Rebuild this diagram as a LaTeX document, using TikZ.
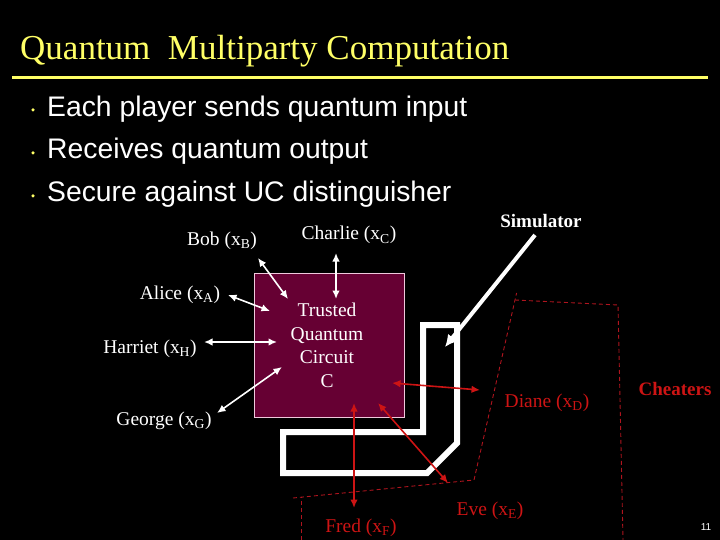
\documentclass[tikz,border=0pt]{standalone}
\usepackage{fontspec}
\setmainfont{Liberation Serif}
\newfontfamily\bulletfont{Liberation Sans}
\usetikzlibrary{arrows.meta}
\definecolor{ttl}{RGB}{255,255,102}
\definecolor{cred}{RGB}{205,20,20}
\definecolor{dred}{RGB}{175,20,30}
\definecolor{boxfill}{RGB}{102,0,51}
\definecolor{boxline}{RGB}{240,200,220}
\begin{document}
\begin{tikzpicture}[x=1pt,y=-1pt,
  lbl/.style={font=\fontsize{19.5}{23}\selectfont, text=white, inner sep=0pt, anchor=base},
  rlbl/.style={lbl, text=cred},
  blt/.style={font=\bulletfont\fontsize{28.3}{32}\selectfont, text=white, inner sep=0pt, anchor=base west},
  dot/.style={circle, fill=ttl, inner sep=0pt, minimum size=3.5pt},
  warrow/.style={white, line width=1.6pt, {Latex[length=8.5pt,width=7.5pt]}-{Latex[length=8.5pt,width=7.5pt]}},
  rarrow/.style={cred, line width=1.6pt, {Latex[length=8.5pt,width=7.5pt]}-{Latex[length=8.5pt,width=7.5pt]}},
  simarrow/.style={white, line width=4pt, -{Latex[length=12pt,width=12pt]}},
  simwall/.style={white, line width=6pt, line join=miter},
  cheat/.style={dred, dashed, dash pattern=on 4pt off 3pt, line width=0.9pt}
]
\fill[black] (0,0) rectangle (720,540);
\useasboundingbox (0,0) rectangle (720,540);

% title
\node[anchor=base west, text=ttl, font=\fontsize{35}{40}\selectfont, inner sep=0pt] (title) at (20,60) {Quantum\enspace Multiparty Computation};
\draw[ttl, line width=3pt] (12,78) -- (708,78);

% bullets
\node[dot] (d1) at (33,110) {};
\node[dot] (d2) at (33,153) {};
\node[dot] (d3) at (33,196) {};
\node[blt] (b1) at (47,117) {Each player sends quantum input};
\node[blt] (b2) at (47,159) {Receives quantum output};
\node[blt] (b3) at (47,202) {Secure against UC distinguisher};

% trusted circuit
\node[draw=boxline, line width=0.8pt, fill=boxfill, minimum width=150pt, minimum height=144pt, inner sep=0pt] (box) at (329,345) {};
\node[lbl] (t1) at (327,316) {Trusted};
\node[lbl] (t2) at (327,340) {Quantum};
\node[lbl] (t3) at (327,363) {Circuit};
\node[lbl] (t4) at (327,387) {C};

% simulator wall
\draw[simwall] (423,325) -- (457,325) -- (457,443) -- (427,473) -- (283,473) -- (283,432) -- (423,432) -- cycle;

% players
\node[lbl] (bob) at (222,245) {Bob (x\textsubscript{B})};
\node[lbl] (alice) at (180,299) {Alice (x\textsubscript{A})};
\node[lbl] (harriet) at (150,353) {Harriet (x\textsubscript{H})};
\node[lbl] (george) at (164,425) {George (x\textsubscript{G})};
\node[lbl] (charlie) at (349,240) {Charlie (x\textsubscript{C})};
\node[lbl, font=\bfseries\fontsize{19}{23}\selectfont] (sim) at (541,227) {Simulator};
\node[rlbl] (diane) at (547,407) {Diane (x\textsubscript{D})};
\node[rlbl, font=\bfseries\fontsize{19}{23}\selectfont] (cheaters) at (675,395) {Cheaters};
\node[rlbl] (eve) at (490,515) {Eve (x\textsubscript{E})};
\node[rlbl] (fred) at (361,532) {Fred (x\textsubscript{F})};
\node[anchor=base, text=white, font=\bulletfont\fontsize{10}{12}\selectfont, inner sep=0pt] (pg) at (706,530) {11};

% arrow ends
\coordinate (bobE) at (258,258);  \coordinate (bobB) at (288,299);
\coordinate (aliceE) at (228,295); \coordinate (aliceB) at (270,311);
\coordinate (harE) at (204,342);  \coordinate (harB) at (277,342);
\coordinate (geoE) at (217,413);  \coordinate (geoB) at (282,367);
\coordinate (chaE) at (336,253);  \coordinate (chaB) at (336,299);
\coordinate (dianeE) at (480,390); \coordinate (dianeB) at (392,383);
\coordinate (fredE) at (354,508); \coordinate (fredB) at (354,403);
\coordinate (eveE) at (448,483);  \coordinate (eveB) at (378,403);
\coordinate (simS) at (535,235);  \coordinate (simT) at (445,347);

\draw[warrow] (bobE) -- (bobB);
\draw[warrow] (aliceE) -- (aliceB);
\draw[warrow] (harE) -- (harB);
\draw[warrow] (geoE) -- (geoB);
\draw[warrow] (chaE) -- (chaB);
\draw[rarrow] (dianeB) -- (dianeE);
\draw[rarrow] (fredB) -- (fredE);
\draw[rarrow] (eveB) -- (eveE);
\draw[simarrow] (simS) -- (simT);

% cheaters region
\draw[cheat] (301,540) -- (301,497.2);
\draw[cheat] (293,498) -- (474,480) -- (516.6,293);
\draw[cheat] (515,300) -- (618,305) -- (623,540);
\end{tikzpicture}
\end{document}
